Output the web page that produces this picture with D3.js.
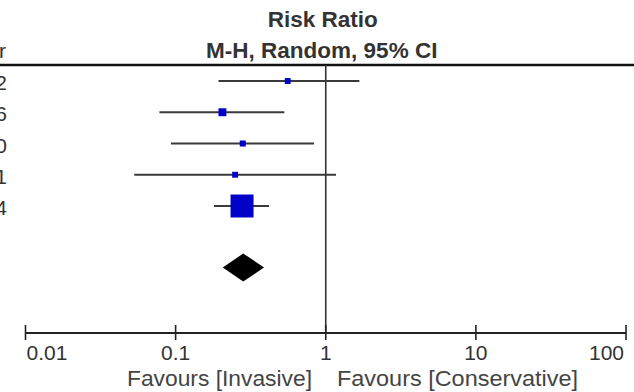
<!DOCTYPE html>
<html>
<head>
<meta charset="utf-8">
<script src="https://cdn.jsdelivr.net/npm/d3@7"></script>
<style>
  body { margin: 0; background: #fff; }
  svg { display: block; font-family: "Liberation Sans", Arial, sans-serif; }
</style>
</head>
<body>
<script>
// study rows (left column is cut off at the edge of the picture)
var years = ["2012", "2016", "2010", "2011", "2014"];
var rr = [0.558, 0.205, 0.280, 0.249, 0.277];
var lower = [0.193, 0.078, 0.093, 0.053, 0.180];
var upper = [1.675, 0.530, 0.836, 1.171, 0.419];
var weights = [5.0, 9.0, 5.2, 5.0, 75.8];

// pooled estimate
var total = { rr: 0.282, lower: 0.206, upper: 0.388 };

var tickVals = [0.01, 0.1, 1, 10, 100];
var tickLabels = ["0.01", "0.1", "1", "10", "100"];

var w = 634;
var h = 392;

var svg = d3.select("body")
  .append("svg")
  .attr("width", w)
  .attr("height", h);

var x = d3.scaleLog()
  .domain([0.01, 100])
  .range([25.5, 626]);

var y = d3.scalePoint()
  .domain(d3.range(years.length))
  .range([81, 206]);

var size = d3.scaleSqrt()
  .domain([0, 100])
  .range([0, 26.4]);

var axisY = 333;
var headY = 65;
var diamondY = 267.5;

// header
svg.append("text")
  .attr("x", x(1) - 3).attr("y", 27)
  .attr("text-anchor", "middle")
  .style("font-weight", "bold").style("font-size", "22.5px").style("fill", "#333")
  .text("Risk Ratio");
svg.append("text")
  .attr("x", x(1) - 4).attr("y", 58)
  .attr("text-anchor", "middle")
  .style("font-weight", "bold").style("font-size", "22.5px").style("fill", "#333")
  .text("M-H, Random, 95% CI");
svg.append("text")
  .attr("x", 6).attr("y", 58)
  .attr("text-anchor", "end")
  .style("font-size", "21px").style("fill", "#333")
  .text("Year");

svg.append("line")
  .attr("x1", 0).attr("x2", w)
  .attr("y1", headY).attr("y2", headY)
  .style("stroke", "#111").style("stroke-width", 2.5);

// line of no effect
svg.append("line")
  .attr("x1", x(1)).attr("x2", x(1))
  .attr("y1", headY).attr("y2", axisY)
  .style("stroke", "#333").style("stroke-width", 1.6);

// left column text
svg.selectAll(".yr")
  .data(years)
  .enter()
  .append("text")
  .attr("class", "yr")
  .attr("x", 7)
  .attr("y", function(d, i) { return y(i) + 9; })
  .attr("text-anchor", "end")
  .style("font-size", "21px").style("fill", "#333")
  .text(function(d) { return d; });

// confidence intervals
svg.selectAll(".ci")
  .data(years)
  .enter()
  .append("line")
  .attr("class", "ci")
  .attr("x1", function(d, i) { return x(lower[i]); })
  .attr("x2", function(d, i) { return x(upper[i]); })
  .attr("y1", function(d, i) { return y(i); })
  .attr("y2", function(d, i) { return y(i); })
  .style("stroke", "#3a3a3a").style("stroke-width", 1.8);

// point estimates, sized by weight
svg.selectAll(".pt")
  .data(years)
  .enter()
  .append("rect")
  .attr("class", "pt")
  .attr("x", function(d, i) { return x(rr[i]) - size(weights[i]) / 2; })
  .attr("y", function(d, i) { return y(i) - size(weights[i]) / 2; })
  .attr("width", function(d, i) { return size(weights[i]); })
  .attr("height", function(d, i) { return size(weights[i]); })
  .style("fill", "#0000c8");

// pooled diamond
svg.append("path")
  .attr("d", "M" + x(total.lower) + "," + diamondY +
             "L" + x(total.rr) + "," + (diamondY - 14) +
             "L" + x(total.upper) + "," + diamondY +
             "L" + x(total.rr) + "," + (diamondY + 14) + "Z")
  .style("fill", "#000");

// axis
svg.append("line")
  .attr("x1", x(0.01)).attr("x2", x(100))
  .attr("y1", axisY).attr("y2", axisY)
  .style("stroke", "#222").style("stroke-width", 2);

svg.selectAll(".tk")
  .data(tickVals)
  .enter()
  .append("line")
  .attr("class", "tk")
  .attr("x1", function(d) { return x(d); })
  .attr("x2", function(d) { return x(d); })
  .attr("y1", axisY - 8).attr("y2", axisY + 7)
  .style("stroke", "#222").style("stroke-width", 1.6);

svg.selectAll(".tl")
  .data(tickVals)
  .enter()
  .append("text")
  .attr("class", "tl")
  .attr("x", function(d, i) {
    if (i == 0) return x(d) + 1;
    if (i == tickVals.length - 1) return x(d) - 2;
    return x(d);
  })
  .attr("y", 360)
  .attr("text-anchor", function(d, i) {
    if (i == 0) return "start";
    if (i == tickVals.length - 1) return "end";
    return "middle";
  })
  .style("font-size", "21px").style("fill", "#333")
  .text(function(d, i) { return tickLabels[i]; });

// favours labels, stretched to the width they take in the original
svg.append("text")
  .attr("x", 127).attr("y", 386)
  .attr("textLength", 185).attr("lengthAdjust", "spacingAndGlyphs")
  .style("font-size", "22px").style("fill", "#444")
  .text("Favours [Invasive]");
svg.append("text")
  .attr("x", 337).attr("y", 386)
  .attr("textLength", 241).attr("lengthAdjust", "spacingAndGlyphs")
  .style("font-size", "22px").style("fill", "#444")
  .text("Favours [Conservative]");
</script>
</body>
</html>
